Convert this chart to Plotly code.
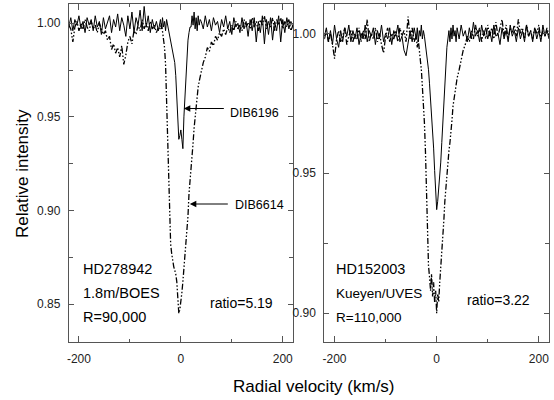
import plotly.graph_objects as go

# Velocity grid (km/s): coarse in the continuum, finer across the band cores
velocity = list(range(-220, -40, 4)) + list(range(-40, 40, 2)) + list(range(40, 221, 4))

# x tick labels
x_tick_values = [-200, 0, 200]
x_tick_labels = ["-200", "0", "200"]

# HD278942 (left panel) - DIB6196 (solid)
hd278942_dib6196 = [
    0.998, 1.003, 0.996, 1.002, 0.999, 1.004, 0.997, 1.001, 0.995, 1.003,
    0.999, 1.002, 0.996, 1.004, 0.998, 1.001, 0.994, 1.003, 0.997, 1.000,
    1.004, 0.995, 1.002, 0.998, 1.005, 0.996, 1.003, 0.999, 0.993, 1.004,
    0.997, 1.006, 0.995, 1.003, 0.999, 1.007, 0.996, 1.009, 0.998, 1.004,
    0.995, 1.002, 0.997, 1.001, 0.996,
    1.002, 0.997, 1.003, 0.998, 1.001, 0.996, 1.002, 0.999, 0.998, 0.994,
    0.991, 0.988, 0.984, 0.981, 0.979, 0.972, 0.962, 0.950, 0.938, 0.940,
    0.943, 0.938, 0.933, 0.950, 0.962, 0.974, 0.984, 0.991, 0.995, 0.998,
    0.998, 1.004, 0.999, 1.006, 0.997, 1.003, 0.996, 1.004, 0.999, 1.002,
    1.001, 0.997, 1.004, 0.998, 1.002, 0.996, 1.003, 0.999, 1.001, 0.995,
    1.002, 0.998, 1.004, 0.997, 1.001, 0.994, 1.003, 0.998, 1.000, 0.995,
    1.003, 0.997, 1.001, 0.993, 1.002, 0.996, 1.003, 0.990, 1.001, 0.995,
    1.004, 0.989, 1.002, 0.994, 1.003, 0.991, 1.001, 0.996, 1.004, 0.990,
    1.002, 0.995, 1.003, 0.997, 1.001, 0.998,
]

# HD278942 (left panel) - DIB6614 (dash-dot-dot)
hd278942_dib6614 = [
    0.999, 0.997, 0.990, 0.998, 1.001, 0.996, 1.000, 0.997, 1.002, 0.998,
    0.996, 1.001, 0.997, 0.999, 0.995, 1.000, 0.997, 0.994, 0.996, 0.991,
    0.993, 0.986, 0.989, 0.984, 0.987, 0.982, 0.988, 0.978, 0.983, 0.990,
    0.993, 0.989, 0.996, 0.994, 0.999, 0.996, 1.002, 0.997, 1.000, 0.996,
    1.001, 0.997, 0.999, 0.995, 0.998,
    0.997, 1.000, 0.995, 0.993, 0.987, 0.978, 0.960, 0.936, 0.912, 0.893,
    0.882, 0.877, 0.873, 0.870, 0.868, 0.866, 0.862, 0.854, 0.845, 0.847,
    0.851, 0.856, 0.862, 0.869, 0.876, 0.883, 0.889, 0.897, 0.909, 0.915,
    0.921, 0.929, 0.936, 0.944, 0.950, 0.955, 0.961, 0.966, 0.969, 0.972,
    0.975, 0.979, 0.982, 0.987, 0.985, 0.990, 0.988, 0.993, 0.991, 0.995,
    0.993, 0.997, 0.994, 0.998, 0.995, 0.999, 0.996, 1.001, 0.997, 0.999,
    0.996, 1.002, 0.998, 1.000, 0.997, 1.003, 0.998, 1.001, 0.996, 1.002,
    0.999, 1.004, 0.997, 1.001, 0.998, 1.003, 0.996, 1.002, 0.999, 1.003,
    0.997, 1.001, 0.998, 1.002, 0.996, 0.999,
]

# HD152003 (right panel) - DIB6196 (solid)
hd152003_dib6196 = [
    0.999, 1.002, 0.997, 1.001, 0.996, 1.003, 0.998, 0.995, 1.001, 0.997,
    1.002, 0.999, 1.003, 0.997, 1.001, 0.998, 1.002, 0.996, 1.000, 0.998,
    1.003, 0.997, 1.001, 0.999, 1.002, 0.996, 1.001, 0.998, 1.003, 0.997,
    1.000, 0.998, 1.002, 0.996, 1.001, 0.999, 1.003, 0.997, 0.999, 0.994,
    0.992, 0.996, 1.001, 0.997, 1.002,
    0.998, 1.002, 0.997, 1.001, 0.999, 1.003, 0.998, 1.001, 0.999, 0.996,
    0.994, 0.991, 0.987, 0.982, 0.977, 0.972, 0.966, 0.959, 0.951, 0.943,
    0.937, 0.940, 0.944, 0.948, 0.954, 0.961, 0.968, 0.976, 0.984, 0.991,
    0.995, 0.998, 1.001, 0.997, 1.002, 0.998, 1.003, 0.999, 1.001, 0.997,
    1.002, 0.998, 1.003, 0.999, 1.001, 0.997, 1.002, 0.998, 1.004, 0.999,
    1.001, 0.997, 1.003, 0.999, 1.002, 0.998, 1.001, 0.997, 1.003, 0.999,
    1.000, 0.996, 1.002, 0.998, 1.001, 0.997, 1.003, 0.999, 1.001, 0.997,
    1.002, 0.998, 1.001, 0.997, 1.003, 0.999, 1.001, 0.997, 1.002, 0.998,
    1.001, 0.997, 1.003, 0.999, 1.001, 0.998,
]

# HD152003 (right panel) - DIB6614 (dash-dot-dot)
hd152003_dib6614 = [
    0.998, 1.001, 0.997, 1.000, 0.996, 0.991, 0.998, 1.001, 0.997, 0.999,
    1.002, 0.996, 0.999, 1.001, 0.997, 1.000, 0.998, 1.002, 0.997, 1.001,
    0.998, 1.005, 0.997, 1.000, 0.998, 1.002, 0.997, 1.000, 0.996, 0.993,
    0.999, 1.002, 0.997, 1.000, 0.998, 1.001, 0.997, 1.002, 0.999, 1.001,
    0.997, 1.006, 0.998, 1.002, 0.997,
    0.999, 0.995, 0.998, 0.994, 0.991, 0.987, 0.981, 0.976, 0.968, 0.958,
    0.942, 0.928, 0.917, 0.913, 0.908, 0.914, 0.906, 0.911, 0.904, 0.908,
    0.900, 0.907, 0.904, 0.911, 0.916, 0.920, 0.926, 0.933, 0.940, 0.945,
    0.949, 0.954, 0.958, 0.961, 0.964, 0.969, 0.974, 0.977, 0.979, 0.982,
    0.984, 0.987, 0.991, 0.994, 0.996, 0.999, 0.997, 1.001, 0.998, 1.003,
    0.999, 1.002, 0.997, 1.001, 0.998, 1.003, 0.999, 1.002, 0.998, 1.004,
    0.999, 1.002, 1.005, 0.999, 1.003, 0.998, 1.002, 1.000, 1.003, 0.999,
    1.005, 1.000, 1.002, 0.998, 1.003, 0.999, 1.001, 0.998, 1.002, 1.000,
    1.003, 0.998, 1.001, 0.999, 1.002, 0.999,
]

W, H = 554, 400
DASH = "6px,2px,1.5px,2px,1.5px,2px"

fig = go.Figure()
fig.add_trace(go.Scatter(x=velocity, y=hd278942_dib6614, mode="lines",
                         line=dict(color="black", width=1.3, dash=DASH),
                         xaxis="x", yaxis="y", showlegend=False))
fig.add_trace(go.Scatter(x=velocity, y=hd278942_dib6196, mode="lines",
                         line=dict(color="black", width=1),
                         xaxis="x", yaxis="y", showlegend=False))
fig.add_trace(go.Scatter(x=velocity, y=hd152003_dib6614, mode="lines",
                         line=dict(color="black", width=1.3, dash=DASH),
                         xaxis="x2", yaxis="y2", showlegend=False))
fig.add_trace(go.Scatter(x=velocity, y=hd152003_dib6196, mode="lines",
                         line=dict(color="black", width=1),
                         xaxis="x2", yaxis="y2", showlegend=False))

tickfont = dict(family="Liberation Sans, Arial, sans-serif", size=12, color="#222")
common_x = dict(range=[-220, 220], tickvals=x_tick_values, ticktext=x_tick_labels,
                ticks="inside", ticklen=6,
                showline=True, linecolor="#555", linewidth=1, mirror="allticks",
                showgrid=False, zeroline=False, tickfont=tickfont, tickcolor="#555",
                ticklabelstandoff=6,
                minor=dict(dtick=100, tick0=0, ticks="inside", ticklen=3, tickcolor="#555"))
common_y = dict(dtick=0.05, tick0=0, tickformat=".2f", ticks="inside", ticklen=5,
                showline=True, linecolor="#555", linewidth=1, mirror="allticks",
                showgrid=False, zeroline=False, tickfont=tickfont, tickcolor="#555",
                ticklabelstandoff=5,
                minor=dict(dtick=0.025, tick0=0, ticks="inside", ticklen=4, tickcolor="#555"))

fig.update_layout(
    width=W, height=H, margin=dict(l=0, r=0, t=0, b=0),
    paper_bgcolor="white", plot_bgcolor="white",
    xaxis=dict(domain=[67 / W, 292 / W], anchor="y", **common_x),
    yaxis=dict(domain=[1 - 342 / H, 1 - 4 / H], anchor="x", range=[0.8297, 1.0103], **common_y),
    xaxis2=dict(domain=[323.5 / W, 549 / W], anchor="y2", **common_x),
    yaxis2=dict(domain=[1 - 342 / H, 1 - 4 / H], anchor="x2", range=[0.8897, 1.0105], **common_y),
)

LABEL_FONT = "Liberation Sans, Arial, sans-serif"

def note(text, px, py, size=14.5, anchor="left"):
    fig.add_annotation(text=text, xref="paper", yref="paper", x=px / W, y=1 - py / H,
                       xanchor=anchor, yanchor="middle", showarrow=False,
                       font=dict(family=LABEL_FONT, size=size, color="black"))

note("HD278942", 79, 268.5)
note("1.8m/BOES", 79, 293)
note("R=90,000", 79, 317)
note("ratio=5.19", 207, 303, size=14)
note("HD152003", 333, 268.5)
note("Kueyen/UVES", 333, 293, size=13.5)
note("R=110,000", 333, 317, size=13.5)
note("ratio=3.22", 465, 300, size=14)
note("DIB6196", 227, 113, size=12.5)
note("DIB6614", 232, 205, size=12.5)

for tipx, tipy, tailx in [(182.5, 108.5, 224), (188.5, 204, 228)]:
    fig.add_annotation(text="", xref="paper", yref="paper", x=tipx / W, y=1 - tipy / H,
                       ax=tailx - tipx, ay=0, showarrow=True, arrowhead=2,
                       arrowsize=1.3, arrowwidth=1, arrowcolor="black")

fig.add_annotation(text="Relative intensity", xref="paper", yref="paper",
                   x=20 / W, y=1 - 173 / H, textangle=-90, showarrow=False,
                   xanchor="center", yanchor="middle",
                   font=dict(family="Liberation Sans, Arial, sans-serif", size=17, color="black"))
fig.add_annotation(text="Radial velocity (km/s)", xref="paper", yref="paper",
                   x=313 / W, y=1 - 386 / H, showarrow=False,
                   xanchor="center", yanchor="middle",
                   font=dict(family="Liberation Sans, Arial, sans-serif", size=17, color="black"))

fig.write_html("out.html", config={"displayModeBar": False},
               post_script="document.body.style.margin='0px';")
